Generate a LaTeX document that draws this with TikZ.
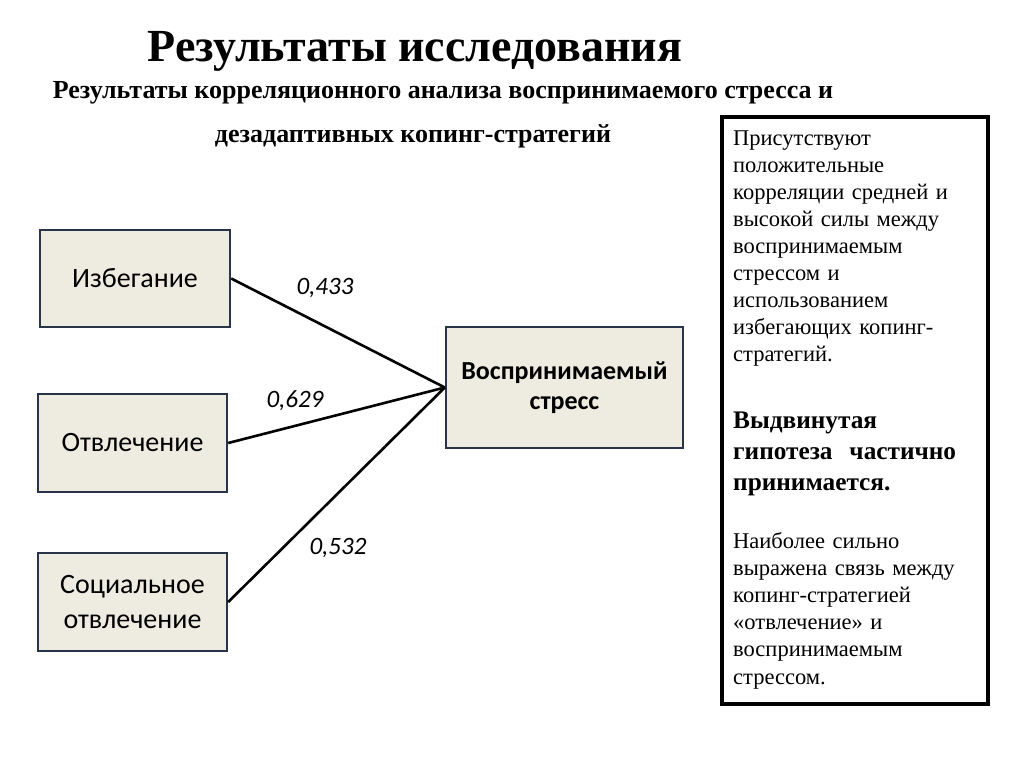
\documentclass[tikz,border=0pt]{standalone}
\usepackage{fontspec}
\setmainfont{Liberation Serif}
\newfontfamily\calibri{Carlito}
\definecolor{boxfill}{RGB}{238,236,225}
\definecolor{boxline}{RGB}{40,52,72}
\tikzset{
  varbox/.style={draw=boxline, line width=2.4pt, fill=boxfill, align=center,
    font=\calibri\fontsize{28}{35}\selectfont, inner sep=0pt},
  corrlabel/.style={font=\calibri\itshape\fontsize{25}{30}\selectfont, inner sep=0pt},
  link/.style={line width=2.6pt, black},
  notetext/.style={anchor=base west, inner sep=0pt, text width=250pt, align=left}
}
\begin{document}
\begin{tikzpicture}[x=1pt,y=-1pt]
\useasboundingbox[fill=white] (0,0) rectangle (1024,767);

\node[font=\bfseries\fontsize{46}{52}\selectfont, inner sep=0pt, anchor=base] (title) at (415,62) {Результаты исследования};
\node[font=\bfseries\fontsize{26}{30}\selectfont, inner sep=0pt, anchor=base] (sub1) at (443,99) {Результаты корреляционного анализа воспринимаемого стресса и};
\node[font=\bfseries\fontsize{26}{30}\selectfont, inner sep=0pt, anchor=base] (sub2) at (413,143) {дезадаптивных копинг-стратегий};

\node[varbox, minimum width=190pt, minimum height=97pt] (izb) at (135,278.5) {Избегание};
\node[varbox, minimum width=189pt, minimum height=98pt] (otv) at (132.5,443) {Отвлечение};
\node[varbox, minimum width=189pt, minimum height=98pt] (soc) at (132.5,602) {Социальное\\отвлечение};
\node[varbox, minimum width=237pt, minimum height=121pt, font=\calibri\bfseries\fontsize{26}{30}\selectfont] (str) at (564.5,387.5) {Воспринимаемый\\стресс};

\draw[link] (izb.east) -- (str.west);
\draw[link] (otv.east) -- (str.west);
\draw[link] (soc.east) -- (str.west);

\node[corrlabel] (l1) at (325,288) {0,433};
\node[corrlabel] (l2) at (295,401) {0,629};
\node[corrlabel] (l3) at (338,548) {0,532};

\node[draw=black, line width=4pt, minimum width=266pt, minimum height=587pt, inner sep=0pt] (note) at (855,410.5) {};

\node[notetext, font=\fontsize{22.5}{27}\selectfont] (p1) at (733,146) {Присутствуют\\положительные\\корреляции средней и\\высокой силы между\\воспринимаемым\\стрессом и\\использованием\\избегающих копинг-\\стратегий.};
\node[notetext, font=\bfseries\fontsize{25.3}{31}\selectfont] (p2) at (733,428) {Выдвинутая\\гипотеза\ \ частично\\принимается.};
\node[notetext, font=\fontsize{22.5}{27.2}\selectfont] (p3) at (733,548) {Наиболее сильно\\выражена связь между\\копинг-стратегией\\«отвлечение» и\\воспринимаемым\\стрессом.};
\end{tikzpicture}
\end{document}
